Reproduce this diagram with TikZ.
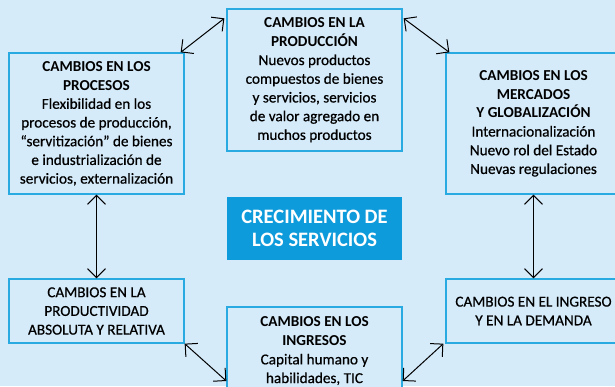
\documentclass[tikz,border=0pt]{standalone}
\usepackage{fontspec}
\setmainfont{Carlito}[UprightFeatures={FakeBold=0.6}]
\usetikzlibrary{arrows.meta}
\definecolor{fondo}{RGB}{213,235,250}
\definecolor{borde}{RGB}{41,171,226}
\definecolor{azul}{RGB}{14,155,219}
\tikzset{
  caja/.style={draw=borde,line width=1.3pt,fill=fondo,minimum width=175pt,inner sep=0pt,
    align=center,font=\fontsize{15.2}{18.7}\selectfont},
  flecha/.style={line width=1pt,{Straight Barb[length=9pt,width=18pt]}-{Straight Barb[length=9pt,width=18pt]}}
}
\begin{document}
\begin{tikzpicture}[x=1pt,y=-1pt]
        \fill[fondo] (0,0) rectangle (615,386);
        \useasboundingbox (0,0) rectangle (615,386);
        \clip (0,0) rectangle (615,386);
        \node[caja,minimum height=141pt] (procesos) at (96.5,123.5)
          {\textbf{CAMBIOS EN LOS}\\\textbf{PROCESOS}\\Flexibilidad en los\\procesos de producción,\\“servitización” de bienes\\e industrialización de\\servicios, externalización};
        \node[caja,minimum height=142pt] (produccion) at (314.5,80)
          {\textbf{CAMBIOS EN LA}\\\textbf{PRODUCCIÓN}\\Nuevos productos\\compuestos de bienes\\y servicios, servicios\\de valor agregado en\\muchos productos};
        \node[caja,minimum height=141pt] (mercados) at (533.5,123.5)
          {\textbf{CAMBIOS EN LOS}\\\textbf{MERCADOS}\\\textbf{Y GLOBALIZACIÓN}\\Internacionalización\\Nuevo rol del Estado\\Nuevas regulaciones};
        \node[caja,fill=azul,draw=none,minimum height=63pt,text=white,
          font=\fontsize{20.5}{23}\selectfont\bfseries] (servicios) at (314.5,228.5)
          {CRECIMIENTO DE\\LOS SERVICIOS};
        \node[caja,minimum height=64pt] (productividad) at (96.5,311)
          {CAMBIOS EN LA\\PRODUCTIVIDAD\\ABSOLUTA Y RELATIVA};
        \node[caja,minimum height=64pt] (demanda) at (533.5,311)
          {CAMBIOS EN EL INGRESO\\Y EN LA DEMANDA};
        \node[caja,minimum height=88pt] (ingresos) at (314.5,351)
          {\textbf{CAMBIOS EN LOS}\\\textbf{INGRESOS}\\Capital humano y\\habilidades, TIC};
        \draw[flecha] ([xshift=-4pt]procesos.north east) -- ([xshift=-2pt,yshift=-10pt]produccion.north west);
        \draw[flecha] ([xshift=1pt,yshift=-10pt]produccion.north east) -- ([xshift=4pt]mercados.north west);
        \draw[flecha] (procesos) -- (productividad);
        \draw[flecha] (mercados) -- (demanda);
        \draw[flecha] (productividad.south east) -- ([yshift=-30pt]ingresos.west);
        \draw[flecha] ([yshift=-30pt]ingresos.east) -- ([xshift=-2pt]demanda.south west);
      \end{tikzpicture}
\end{document}
